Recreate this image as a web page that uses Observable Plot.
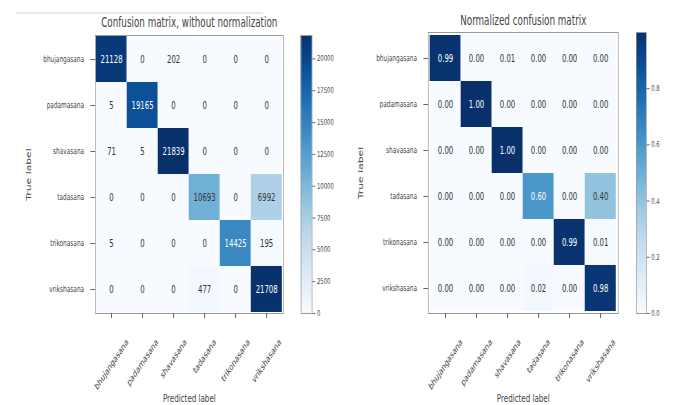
<!DOCTYPE html>
<html><head><meta charset="utf-8">
<script src="https://cdn.jsdelivr.net/npm/d3@7"></script>
<script src="https://cdn.jsdelivr.net/npm/@observablehq/plot@0.6"></script>
<style>
body{margin:0;background:#fff;}
#root{position:relative;width:674px;height:405px;overflow:hidden;background:#fff;}
#stage{position:absolute;left:0;top:0;height:405px;transform-origin:0 0;}
#stage > svg{position:absolute;top:0;}
.topline{position:absolute;left:16px;top:12px;width:247px;height:2px;background:#e8e8e8;}
</style></head><body><div id="root"><div class="topline"></div><div id="stage"></div></div>
<script>
const labels = ["bhujangasana","padamasana","shavasana","tadasana","trikonasana","vrikshasana"];
const counts = [
  [21128, 0, 202, 0, 0, 0],
  [5, 19165, 0, 0, 0, 0],
  [71, 5, 21839, 0, 0, 0],
  [0, 0, 0, 10693, 0, 6992],
  [5, 0, 0, 0, 14425, 195],
  [0, 0, 0, 477, 0, 21708]
];
const normalized = [
  [0.99, 0.00, 0.01, 0.00, 0.00, 0.00],
  [0.00, 1.00, 0.00, 0.00, 0.00, 0.00],
  [0.00, 0.00, 1.00, 0.00, 0.00, 0.00],
  [0.00, 0.00, 0.00, 0.60, 0.00, 0.40],
  [0.00, 0.00, 0.00, 0.00, 0.99, 0.01],
  [0.00, 0.00, 0.00, 0.02, 0.00, 0.98]
];
const countTicks = [0, 2500, 5000, 7500, 10000, 12500, 15000, 17500, 20000];
const normTicks = [0, 0.2, 0.4, 0.6, 0.8];
const titleCounts = "Confusion matrix, without normalization";
const titleNorm = "Normalized confusion matrix";
const yLabel = "True label";
const xLabel = "Predicted label";

// the reference picture is squeezed horizontally; the whole figure is drawn wide and squeezed the same way
const S = 0.66;
const FONT = '"DejaVu Sans", sans-serif';
const ctx = document.createElement("canvas").getContext("2d");
function measure(text, size){ ctx.font = size + "px " + FONT; return ctx.measureText(text).width; }

function matrix(values, {title, fmt, width, mt, ml, mr, cmax, titleDy, ylabDx}) {
  const data = values.flatMap((row, i) => row.map((v, j) => ({t: labels[i], p: labels[j], v})));
  const thresh = cmax / 2;
  const ANG = 45, LS = 8.8, RS = 9.6;
  const rad = ANG * Math.PI / 180;
  const tickLabelMarks = labels.map(l => Plot.text([l], {
    x: d => d, frameAnchor: "bottom", textAnchor: "end", lineAnchor: "middle",
    rotate: -ANG, dx: measure(l, RS) * Math.cos(rad) / 2, dy: 27, fontSize: RS, fill: "#444"
  }));
  return Plot.plot({
    width, height: 405, marginTop: mt, marginLeft: ml, marginRight: mr, marginBottom: 92,
    style: {fontFamily: FONT, background: "transparent", color: "#444"},
    x: {domain: labels, padding: 0, axis: null},
    y: {domain: labels, padding: 0, axis: null},
    color: {type: "linear", scheme: "blues", domain: [0, cmax]},
    marks: [
      Plot.cell(data, {x: "p", y: "t", fill: "v"}),
      Plot.text(data, {x: "p", y: "t", text: d => fmt(d.v), fill: d => d.v > thresh ? "white" : "#333", fontSize: 10.5}),
      Plot.frame({stroke: "#999"}),
      Plot.axisY({tickSize: 7, tickPadding: 10, fontSize: LS, label: null}),
      Plot.axisX({tickSize: 5, tickFormat: () => "", label: null}),
      ...tickLabelMarks,
      Plot.text([title], {frameAnchor: "top", lineAnchor: "middle", textAnchor: "middle", dy: titleDy, fontSize: 13.3, fill: "#444"}),
      Plot.text([yLabel], {frameAnchor: "left", textAnchor: "middle", lineAnchor: "middle", dx: ylabDx, rotate: -90, fontSize: 10.8, fill: "#444"}),
      Plot.text([xLabel], {frameAnchor: "bottom", textAnchor: "middle", lineAnchor: "middle", dy: 85, fontSize: 10.8, fill: "#444"})
    ]
  });
}

function colorbar(max, ticks, fmt, {width, mt, ml, bw}) {
  const n = 200, step = max / n;
  const stripes = d3.range(n).map(i => i * step);
  return Plot.plot({
    width, height: 405, marginTop: mt, marginBottom: 92, marginLeft: ml, marginRight: width - ml - bw,
    style: {fontFamily: FONT, background: "transparent", color: "#444"},
    x: {domain: [0, 1], axis: null},
    y: {domain: [0, max], axis: null},
    color: {type: "linear", scheme: "blues", domain: [0, max]},
    marks: [
      Plot.rect(stripes, {x1: 0, x2: 1, y1: d => d, y2: d => Math.min(max, d + step * 1.6), fill: d => d}),
      Plot.frame({stroke: "#999"}),
      Plot.axisY({anchor: "right", ticks, tickSize: 4.5, tickPadding: 3, tickFormat: fmt, fontSize: 8, label: null})
    ]
  });
}

const stage = document.getElementById("stage");
stage.style.width = (674 / S) + "px";
stage.style.transform = "scaleX(" + S + ")";
function place(svg, left){ svg.style.left = (left / S) + "px"; stage.appendChild(svg); }

const maxCount = d3.max(counts.flat());
// screen-pixel layout divided by S gives the drawing width
place(matrix(counts, {title: titleCounts, fmt: d3.format("d"), width: 300 / S, mt: 35, ml: 95 / S, mr: 17 / S, cmax: maxCount, titleDy: -13, ylabDx: -67 / S}), 0);
place(colorbar(maxCount, countTicks, d3.format("d"), {width: 60 / S, mt: 35, ml: 11 / S, bw: 11 / S}), 290);
place(matrix(normalized, {title: titleNorm, fmt: d3.format(".2f"), width: 300 / S, mt: 32, ml: 94 / S, mr: 16 / S, cmax: 1, titleDy: -12, ylabDx: -68 / S}), 334);
place(colorbar(1, normTicks, d3.format(".1f"), {width: 49 / S, mt: 32, ml: 11 / S, bw: 10 / S}), 625);
</script></body></html>
